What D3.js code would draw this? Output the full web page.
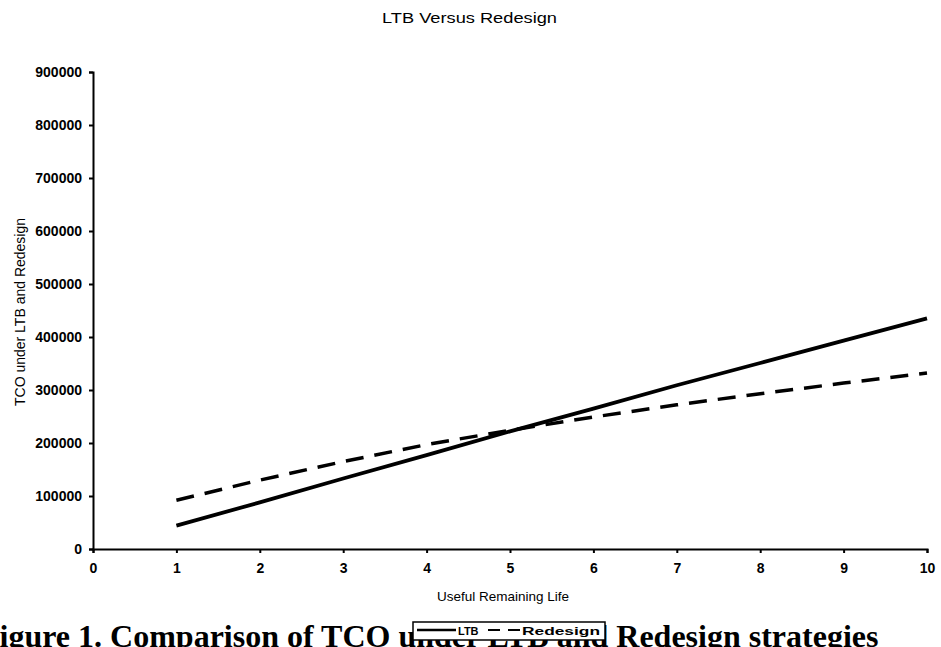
<!DOCTYPE html>
<html>
<head>
<meta charset="utf-8">
<script src="https://cdn.jsdelivr.net/npm/d3@7"></script>
<style>
  html, body { margin: 0; padding: 0; background: #fff; }
  svg { display: block; }
</style>
</head>
<body>
<svg id="chart" width="941" height="647"></svg>
<script>
// ---- data ----
const years = [1, 2, 3, 4, 5, 6, 7, 8, 9, 10];
const ltb = [44000, 88000, 133000, 177000, 222000, 265000, 309000, 351000, 393000, 435000];
const redesign = [92000, 130000, 165000, 197000, 224000, 249000, 272000, 293000, 313000, 332000];
const xTicks = [0, 1, 2, 3, 4, 5, 6, 7, 8, 9, 10];
const yTicks = [0, 100000, 200000, 300000, 400000, 500000, 600000, 700000, 800000, 900000];
const seriesNames = ["LTB", "Redesign"];

const svg = d3.select("#chart");
const x = d3.scaleLinear().domain([0, 10]).range([93, 927]);
const y = d3.scaleLinear().domain([0, 900000]).range([549, 72]);

// title
svg.append("text")
  .attr("x", 382).attr("y", 23)
  .attr("textLength", 175).attr("lengthAdjust", "spacingAndGlyphs")
  .style("font-family", "Liberation Sans, Arial, sans-serif")
  .style("font-size", "14px")
  .text("LTB Versus Redesign");

// axes
const xAxis = d3.axisBottom(x).tickValues(xTicks).tickFormat(d3.format("d")).tickSize(4).tickPadding(10);
const yAxis = d3.axisLeft(y).tickValues(yTicks).tickFormat(d3.format("d")).tickSize(4).tickPadding(7);

const gx = svg.append("g").attr("transform", "translate(0,549)").call(xAxis);
const gy = svg.append("g").attr("transform", "translate(93,0)").call(yAxis);
[gx, gy].forEach(g => {
  g.select(".domain").attr("stroke", "#000").attr("stroke-width", 2);
  g.selectAll(".tick line").attr("stroke", "#000").attr("stroke-width", 2);
  g.selectAll(".tick text")
    .attr("fill", "#000")
    .style("font-family", "Liberation Sans, Arial, sans-serif")
    .style("font-weight", "bold")
    .style("font-size", "14px");
});

// axis titles
svg.append("text")
  .attr("x", 503).attr("y", 601)
  .attr("text-anchor", "middle")
  .style("font-family", "Liberation Sans, Arial, sans-serif")
  .style("font-size", "13.5px")
  .text("Useful Remaining Life");

svg.append("text")
  .attr("transform", "translate(25,312) rotate(-90)")
  .attr("text-anchor", "middle")
  .style("font-family", "Liberation Sans, Arial, sans-serif")
  .style("font-size", "14px")
  .text("TCO under LTB and Redesign");

// lines
const line = d3.line().x((d, i) => x(years[i])).y(d => y(d));
svg.append("path").datum(ltb)
  .attr("d", line).attr("fill", "none").attr("stroke", "#000").attr("stroke-width", 3.8);
svg.append("path").datum(redesign)
  .attr("d", line).attr("fill", "none").attr("stroke", "#000").attr("stroke-width", 3.5)
  .attr("stroke-dasharray", "18,11");

// caption
svg.append("text")
  .attr("x", -20).attr("y", 647)
  .style("font-family", "Liberation Serif, Times New Roman, serif")
  .style("font-weight", "bold")
  .style("font-size", "32px")
  .text("Figure 1. Comparison of TCO under LTB and Redesign strategies");

// legend
const lg = svg.append("g");
lg.append("rect").attr("x", 413).attr("y", 622).attr("width", 192).attr("height", 18)
  .attr("fill", "#fff").attr("stroke", "#000").attr("stroke-width", 1.5);
lg.append("line").attr("x1", 417).attr("x2", 456).attr("y1", 630).attr("y2", 630)
  .attr("stroke", "#000").attr("stroke-width", 2.5);
lg.append("text").attr("x", 458).attr("y", 635)
  .style("font-family", "Liberation Sans, Arial, sans-serif").style("font-size", "11px")
  .style("font-weight", "bold")
  .text(seriesNames[0]);
lg.append("line").attr("x1", 488).attr("x2", 521).attr("y1", 630).attr("y2", 630)
  .attr("stroke", "#000").attr("stroke-width", 2).attr("stroke-dasharray", "12,8");
lg.append("text").attr("x", 522).attr("y", 635)
  .attr("textLength", 78).attr("lengthAdjust", "spacingAndGlyphs")
  .style("font-family", "Liberation Sans, Arial, sans-serif").style("font-size", "11px")
  .style("font-weight", "bold")
  .text(seriesNames[1]);
</script>
</body>
</html>
